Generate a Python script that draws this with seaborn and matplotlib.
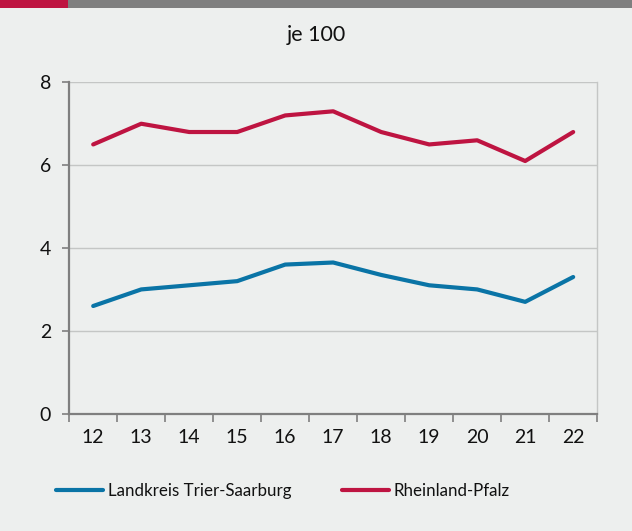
import matplotlib
matplotlib.use("Agg")
import matplotlib.pyplot as plt
import seaborn as sns
import pandas as pd
from matplotlib.patches import Rectangle

years = ["12", "13", "14", "15", "16", "17", "18", "19", "20", "21", "22"]
trier_saarburg = [2.6, 3.0, 3.1, 3.2, 3.6, 3.65, 3.35, 3.1, 3.0, 2.7, 3.3]
rheinland_pfalz = [6.5, 7.0, 6.8, 6.8, 7.2, 7.3, 6.8, 6.5, 6.6, 6.1, 6.8]
series_names = ["Landkreis Trier-Saarburg", "Rheinland-Pfalz"]
y_ticks = [0, 2, 4, 6, 8]

BG = "#EDEFEE"
BLUE = "#0A74A6"
RED = "#BE1441"
GRID = "#C4C6C5"
AXIS = "#7F7F7F"

sns.set_theme(style="white")
plt.rcParams["font.family"] = ["Lato", "DejaVu Sans"]

df = pd.DataFrame({
    "Jahr": years * 2,
    "pos": list(range(len(years))) * 2,
    "Wert": trier_saarburg + rheinland_pfalz,
    "Gebiet": [series_names[0]] * len(years) + [series_names[1]] * len(years),
})

fig = plt.figure(figsize=(6.32, 5.31), dpi=100, facecolor=BG)
ax = fig.add_axes([0.1095, 0.2209, 0.8354, 0.6241])
ax.set_facecolor(BG)

sns.lineplot(data=df, x="pos", y="Wert", hue="Gebiet",
             palette={series_names[0]: BLUE, series_names[1]: RED},
             linewidth=3.0, ax=ax, legend=False, solid_capstyle="round",
             zorder=3)

ax.set_xlim(-0.5, len(years) - 0.5)
ax.set_ylim(0, 8)
ax.set_yticks(y_ticks)
ax.set_yticklabels([str(t) for t in y_ticks])
ax.set_xticks(range(len(years)))
ax.set_xticklabels(years)
ax.set_xticks([i - 0.5 for i in range(len(years) + 1)], minor=True)
ax.set_xlabel("")
ax.set_ylabel("")

ax.yaxis.grid(True, color=GRID, linewidth=1.0, zorder=0)
ax.xaxis.grid(False)

ax.tick_params(axis="y", which="major", direction="out", length=5, width=1.2,
               color=AXIS, labelsize=14, pad=8, left=True, labelcolor="#111111")
ax.tick_params(axis="x", which="major", length=0, labelsize=14, pad=11,
               labelcolor="#111111")
ax.tick_params(axis="x", which="minor", direction="out", length=6, width=1.2,
               color=AXIS, bottom=True)

for side in ["left", "bottom"]:
    ax.spines[side].set_color(AXIS)
    ax.spines[side].set_linewidth(1.6)
ax.spines["right"].set_color(GRID)
ax.spines["right"].set_linewidth(1.0)
ax.spines["top"].set_visible(False)

# top banner
fig.patches.append(Rectangle((0, 1 - 8 / 531), 1, 8 / 531, transform=fig.transFigure,
                             facecolor="#7F7F7F", edgecolor="none"))
fig.patches.append(Rectangle((0, 1 - 8 / 531), 68 / 632, 8 / 531, transform=fig.transFigure,
                             facecolor="#BE1441", edgecolor="none"))

fig.text(0.5, 1 - 35 / 531, "je 100", ha="center", va="center", fontsize=15.5,
         color="#111111")

handles = [plt.Line2D([], [], color=BLUE, linewidth=3.0, solid_capstyle="round"),
           plt.Line2D([], [], color=RED, linewidth=3.0, solid_capstyle="round")]
fig.legend(handles, series_names, loc="center left",
           bbox_to_anchor=(41 / 632, 1 - 491 / 531), ncol=2, frameon=False,
           fontsize=12.2, handlelength=2.75, handletextpad=0.3, columnspacing=3.0,
           labelcolor="#111111")

fig.savefig("out.png", dpi=100, facecolor=BG)
